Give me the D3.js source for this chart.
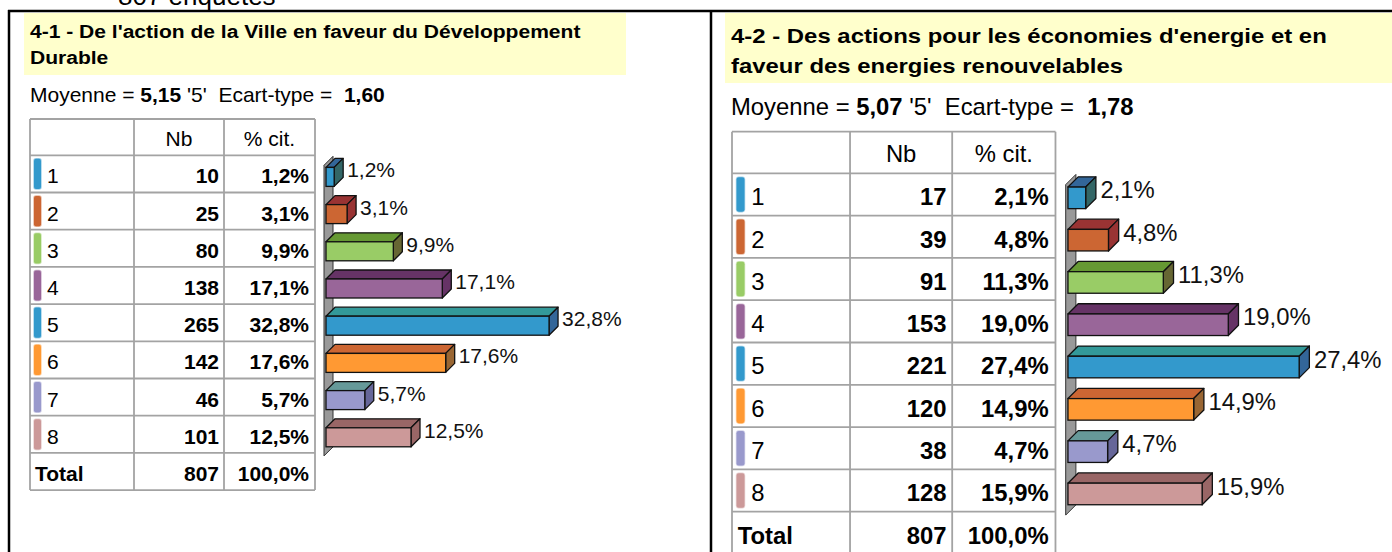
<!DOCTYPE html>
<html><head><meta charset="utf-8">
<script src="https://cdn.jsdelivr.net/npm/d3@7"></script>
<style>html,body{margin:0;padding:0;background:#fff;overflow:hidden}</style>
</head><body>
<script>
// ---- data ----
const categories = ["1","2","3","4","5","6","7","8"];
const countsA = [10,25,80,138,265,142,46,101];
const pctA = [1.2,3.1,9.9,17.1,32.8,17.6,5.7,12.5];
const countsB = [17,39,91,153,221,120,38,128];
const pctB = [2.1,4.8,11.3,19.0,27.4,14.9,4.7,15.9];
const totalA = [807, 100.0];
const totalB = [807, 100.0];
const titleA = ["4-1 - De l'action de la Ville en faveur du Développement", "Durable"];
const titleB = ["4-2 - Des actions pour les économies d'energie et en", "faveur des energies renouvelables"];
const statsA = ["5,15", "'5'", "1,60"];
const statsB = ["5,07", "'5'", "1,78"];
const headers = ["", "Nb", "% cit."];
const topNote = "807 enquêtes";
const frontColors = ["#3399CC","#CC6633","#99CC66","#996699","#3399CC","#FF9933","#9999CC","#CC9999"];
const topColors   = ["#336699","#993333","#669933","#663366","#339999","#CC6633","#669999","#996666"];
const sideColors  = ["#336666","#993333","#666633","#663366","#336699","#996633","#666699","#996666"];

const FONT = "'Liberation Sans', Arial, sans-serif";
const fmtPct = v => d3.format(".1f")(v).replace(".", ",") + "%";

const svg = d3.select("body").append("svg").attr("width",1392).attr("height",552)
  .style("display","block");

// top note (cut off)
svg.append("text").attr("x",118).attr("y",5).attr("font-family",FONT).attr("font-size",26)
  .attr("fill","#000").text(topNote);

function drawPanel(cfg, title, stats, counts, pcts, total){
  const s = cfg.s;
  const g = svg.append("g");
  g.append("rect").attr("x",cfg.bgX0).attr("y",cfg.bgY0).attr("width",cfg.bgX1-cfg.bgX0)
    .attr("height",cfg.bgY1-cfg.bgY0).attr("fill","#FFFFCC");
  const tg = g.append("g");
  const tt = tg.selectAll("text").data(title).join("text")
    .attr("x",0).attr("y",(d,i)=>cfg.titleY[i])
    .attr("font-family",FONT).attr("font-weight","bold").attr("font-size",cfg.titleFont)
    .attr("fill","#000").text(d=>d);
  const tw = tt.node().getComputedTextLength();
  tg.attr("transform",`translate(${cfg.titleX},0) scale(${cfg.titleW/tw},1)`);

  // stats line
  const st = g.append("text").attr("x",cfg.titleX).attr("y",cfg.moyY)
    .attr("font-family",FONT).attr("font-size",21*s).attr("fill","#000")
    .attr("xml:space","preserve").style("white-space","pre");
  st.append("tspan").text("Moyenne = ");
  st.append("tspan").attr("font-weight","bold").text(stats[0]);
  st.append("tspan").text(" " + stats[1] + "  Ecart-type =  ");
  st.append("tspan").attr("font-weight","bold").text(stats[2]);

  // table
  const tx = cfg.tableX;
  const colW = [104*s, 90*s, 91*s];
  const cx = [tx, tx+colW[0], tx+colW[0]+colW[1], tx+colW[0]+colW[1]+colW[2]];
  const rowsTop = cfg.headerTop + cfg.headerH;
  const rowH = cfg.rowH;
  const tableBottom = rowsTop + 9*rowH;
  const fs = 21*s;
  g.append("rect").attr("x",cx[0]).attr("y",cfg.headerTop).attr("width",cx[3]-cx[0])
    .attr("height",tableBottom-cfg.headerTop).attr("fill","#fff");
  const hl = [cfg.headerTop].concat(d3.range(10).map(k=>rowsTop+k*rowH));
  g.selectAll("line.h").data(hl).join("line").attr("class","h")
    .attr("x1",cx[0]).attr("x2",cx[3]).attr("y1",d=>d).attr("y2",d=>d)
    .attr("stroke","#a3a3a3").attr("stroke-width",1.8);
  g.selectAll("line.v").data(cx).join("line").attr("class","v")
    .attr("x1",d=>d).attr("x2",d=>d).attr("y1",cfg.headerTop).attr("y2",tableBottom)
    .attr("stroke","#a3a3a3").attr("stroke-width",1.8);
  // header
  const hy = cfg.headerTop + cfg.headerH/2 + 8.5*s;
  g.selectAll("text.hd").data(headers.slice(1)).join("text").attr("class","hd")
    .attr("x",(d,i)=>(cx[i+1]+cx[i+2])/2).attr("y",hy).attr("text-anchor","middle")
    .attr("font-family",FONT).attr("font-size",fs).attr("fill","#000").text(d=>d);
  const rowBase = i => rowsTop + i*rowH + rowH/2 + 9.5*s;
  // swatches
  g.selectAll("rect.sw").data(categories).join("rect").attr("class","sw")
    .attr("x",tx+4*s).attr("y",(d,i)=>rowsTop+i*rowH+3.5*s).attr("width",7*s)
    .attr("height",rowH-7*s).attr("rx",2*s)
    .attr("fill",(d,i)=>frontColors[i]).attr("stroke",(d,i)=>frontColors[i])
    .attr("stroke-opacity",0.45).attr("stroke-width",1.5);
  g.selectAll("text.cat").data(categories).join("text").attr("class","cat")
    .attr("x",tx+17*s).attr("y",(d,i)=>rowBase(i)).attr("font-family",FONT)
    .attr("font-size",fs).attr("fill","#000").text(d=>d);
  g.selectAll("text.nb").data(counts).join("text").attr("class","nb")
    .attr("x",cx[2]-5*s).attr("y",(d,i)=>rowBase(i)).attr("text-anchor","end")
    .attr("font-family",FONT).attr("font-weight","bold").attr("font-size",fs)
    .attr("fill","#000").text(d=>d);
  g.selectAll("text.pc").data(pcts).join("text").attr("class","pc")
    .attr("x",cx[3]-6*s).attr("y",(d,i)=>rowBase(i)).attr("text-anchor","end")
    .attr("font-family",FONT).attr("font-weight","bold").attr("font-size",fs)
    .attr("fill","#000").text(d=>fmtPct(d));
  // total row
  const ty = rowBase(8);
  g.append("text").attr("x",tx+5*s).attr("y",ty).attr("font-family",FONT).attr("font-weight","bold")
    .attr("font-size",fs).attr("fill","#000").text("Total");
  g.append("text").attr("x",cx[2]-5*s).attr("y",ty).attr("text-anchor","end").attr("font-family",FONT)
    .attr("font-weight","bold").attr("font-size",fs).attr("fill","#000").text(total[0]);
  g.append("text").attr("x",cx[3]-6*s).attr("y",ty).attr("text-anchor","end").attr("font-family",FONT)
    .attr("font-weight","bold").attr("font-size",fs).attr("fill","#000").text(fmtPct(total[1]));

  // bars
  const x0 = cx[3] + 11*s;
  const x = d3.scaleLinear().domain([0, cfg.axisMax]).range([x0, x0 + cfg.axisLen]);
  const y = d3.scaleBand().domain(categories).range([rowsTop, rowsTop + 8*rowH]);
  const d = 9*s, fh = 19*s;
  const fy = c => y(c) + y.bandwidth()/2 + 3*s - fh/2;
  // wall
  const wt = rowsTop + 1*s, wb = rowsTop + 8*rowH + 3*s, wx = x0 - 2*s;
  g.append("polygon").attr("points",[[wx,wt+d],[wx+d,wt],[wx+d,wb-d],[wx,wb]].map(p=>p.join(",")).join(" "))
    .attr("fill","#999").attr("stroke","#333").attr("stroke-width",1);
  const bars = g.selectAll("g.bar").data(pcts.map((v,i)=>({c:categories[i],v,i}))).join("g").attr("class","bar");
  bars.append("polygon").attr("points",b=>{const X=x(b.v),Y=fy(b.c);
      return [[x0,Y],[x0+d,Y-d],[X+d,Y-d],[X,Y]].map(p=>p.join(",")).join(" ");})
    .attr("fill",b=>topColors[b.i]).attr("stroke","#111").attr("stroke-width",1.3).attr("stroke-linejoin","round");
  bars.append("polygon").attr("points",b=>{const X=x(b.v),Y=fy(b.c);
      return [[X,Y],[X+d,Y-d],[X+d,Y+fh-d],[X,Y+fh]].map(p=>p.join(",")).join(" ");})
    .attr("fill",b=>sideColors[b.i]).attr("stroke","#111").attr("stroke-width",1.3).attr("stroke-linejoin","round");
  bars.append("rect").attr("x",x0).attr("y",b=>fy(b.c)).attr("width",b=>x(b.v)-x0).attr("height",fh)
    .attr("fill",b=>frontColors[b.i]).attr("stroke","#111").attr("stroke-width",1.3);
  bars.append("text").attr("x",b=>x(b.v)+d+4*s).attr("y",b=>fy(b.c)+10*s)
    .attr("font-family",FONT).attr("font-size",fs).attr("fill","#111").text(b=>fmtPct(b.v));
}

drawPanel({s:1, bgX0:24, bgX1:626, bgY0:13, bgY1:75, titleX:30, titleY:[38,64], titleFont:18.5, titleW:551,
  moyY:101.5, tableX:30, headerTop:119, headerH:36.3, rowH:37.2, axisMax:35, axisLen:238},
  titleA, statsA, countsA, pctA, totalA);
drawPanel({s:1.135, bgX0:725, bgX1:1392, bgY0:13, bgY1:83, titleX:731, titleY:[43,73], titleFont:21, titleW:596,
  moyY:115, tableX:732, headerTop:131.7, headerH:41.6, rowH:42.3, axisMax:32, axisLen:270},
  titleB, statsB, countsB, pctB, totalB);

// frame
const frame = svg.append("g").attr("stroke","#000").attr("stroke-width",2.5);
frame.append("line").attr("x1",8).attr("x2",1392).attr("y1",11).attr("y2",11);
frame.append("line").attr("x1",9).attr("x2",9).attr("y1",10).attr("y2",552);
frame.append("line").attr("x1",711).attr("x2",711).attr("y1",10).attr("y2",552);
</script>
</body></html>
